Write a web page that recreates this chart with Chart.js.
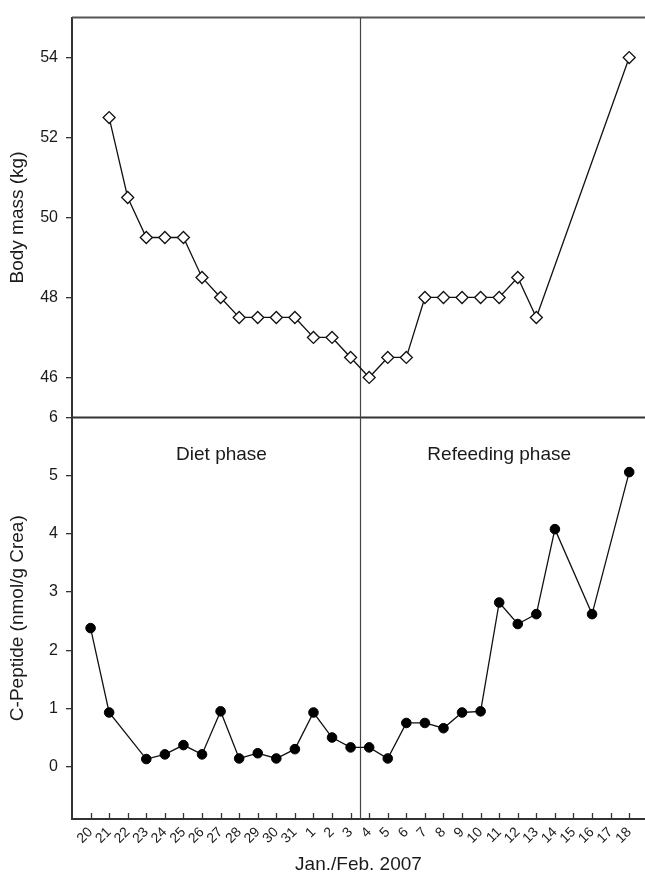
<!DOCTYPE html>
<html>
<head>
<meta charset="utf-8">
<script src="https://cdn.jsdelivr.net/npm/chart.js@4.4.1/dist/chart.umd.min.js"></script>
<style>
  html, body { margin: 0; padding: 0; background: #fff; }
  #wrap { width: 645px; height: 880px; }
</style>
</head>
<body>
<div id="wrap"><canvas id="myChart" width="645" height="880"></canvas></div>
<script>
// dias (eje x compartido)
const dates = ["20", "21", "22", "23", "24", "25", "26", "27", "28", "29", "30", "31",
               "1", "2", "3", "4", "5", "6", "7", "8", "9", "10", "11", "12", "13", "14", "15", "16", "17", "18"];

// masa corporal (kg), null = sin medida
const bodyMass = [null, 52.5, 50.5, 49.5, 49.5, 49.5, 48.5, 48.0, 47.5, 47.5, 47.5, 47.5,
                  47.0, 47.0, 46.5, 46.0, 46.5, 46.5, 48.0, 48.0, 48.0, 48.0, 48.0, 48.5, 47.5,
                  null, null, null, null, 54.0];

// C-peptido (nmol/g Crea)
const cPeptide = [2.38, 0.93, null, 0.13, 0.21, 0.37, 0.21, 0.95, 0.14, 0.23, 0.14, 0.30,
                  0.93, 0.50, 0.33, 0.33, 0.14, 0.75, 0.75, 0.66, 0.93, 0.95, 2.82, 2.45, 2.62,
                  4.08, null, 2.62, null, 5.06];

const massTicks = [46, 48, 50, 52, 54];
const peptideTicks = [0, 1, 2, 3, 4, 5, 6];
const phaseLabels = ["Diet phase", "Refeeding phase"];

Chart.defaults.font.family = "'Liberation Sans', Arial, sans-serif";
Chart.defaults.color = "#1a1a1a";

const axisColor = "#333";

// lineas del marco, separadores, ticks hacia dentro y textos de fase
const framePlugin = {
    id: "frame",
    beforeDatasetsDraw(chart) {
        const ctx = chart.ctx;
        const area = chart.chartArea;
        const x = chart.scales.x;
        const yPep = chart.scales.yPep;

        ctx.save();

        // borde superior
        ctx.strokeStyle = "#555";
        ctx.lineWidth = 2;
        ctx.beginPath();
        ctx.moveTo(area.left, area.top);
        ctx.lineTo(area.right, area.top);
        ctx.stroke();

        // separador horizontal entre paneles
        ctx.strokeStyle = axisColor;
        ctx.beginPath();
        ctx.moveTo(area.left, yPep.top);
        ctx.lineTo(area.right, yPep.top);
        ctx.stroke();

        // linea vertical entre fases
        const xs = Math.round(x.getPixelForValue(14.5)) + 0.5;
        ctx.lineWidth = 1.2;
        ctx.strokeStyle = "#444";
        ctx.beginPath();
        ctx.moveTo(xs, area.top);
        ctx.lineTo(xs, area.bottom);
        ctx.stroke();

        // ticks del eje x hacia dentro
        ctx.lineWidth = 1.3;
        ctx.strokeStyle = axisColor;
        dates.forEach((d, i) => {
            const px = Math.round(x.getPixelForValue(i)) + 0.5;
            ctx.beginPath();
            ctx.moveTo(px, area.bottom);
            ctx.lineTo(px, area.bottom - 6);
            ctx.stroke();
        });

        // textos de fase
        ctx.fillStyle = "#1a1a1a";
        ctx.font = "19px 'Liberation Sans', Arial, sans-serif";
        ctx.textAlign = "center";
        ctx.textBaseline = "middle";
        const ty = yPep.getPixelForValue(5.36);
        ctx.fillText(phaseLabels[0], x.getPixelForValue(7.05), ty);
        ctx.fillText(phaseLabels[1], x.getPixelForValue(22), ty);
        ctx.restore();
    }
};

function toPoints(values) {
    return values.map((v, i) => ({ x: i, y: v }));
}

function setTicks(list) {
    return function(scale) {
        scale.ticks = list.map(v => ({ value: v }));
    };
}

const yAxisCommon = {
    type: "linear",
    position: "left",
    stack: "panels",
    grid: { drawOnChartArea: false, tickLength: 6, color: axisColor, lineWidth: 1.3 },
    border: { color: axisColor, width: 2 },
    ticks: { font: { size: 16 }, padding: 8, color: "#1a1a1a" },
    afterFit(scale) { scale.width = 72; }
};

new Chart(document.getElementById("myChart"), {
    type: "line",
    data: {
        datasets: [
            {
                label: "Body mass",
                data: toPoints(bodyMass),
                yAxisID: "yMass",
                borderColor: "#111",
                borderWidth: 1.3,
                pointStyle: "rectRot",
                pointRadius: 6,
                pointBackgroundColor: "#fff",
                pointBorderColor: "#111",
                pointBorderWidth: 1.3,
                spanGaps: true,
                tension: 0
            },
            {
                label: "C-Peptide",
                data: toPoints(cPeptide),
                yAxisID: "yPep",
                borderColor: "#111",
                borderWidth: 1.3,
                pointStyle: "circle",
                pointRadius: 4.8,
                pointBackgroundColor: "#000",
                pointBorderColor: "#000",
                pointBorderWidth: 1,
                spanGaps: true,
                tension: 0
            }
        ]
    },
    options: {
        responsive: false,
        animation: false,
        layout: { autoPadding: false, padding: { top: 11, left: 0, right: 0, bottom: 0 } },
        plugins: {
            legend: { display: false },
            tooltip: { enabled: false }
        },
        scales: {
            x: {
                type: "linear",
                min: -1,
                max: 29.85,
                afterBuildTicks: setTicks(dates.map((d, i) => i)),
                afterFit(scale) {
                    scale.height = 61;
                    scale.paddingLeft = 0;
                    scale.paddingRight = 0;
                },
                grid: { drawOnChartArea: false, drawTicks: false },
                border: { color: axisColor, width: 2 },
                ticks: {
                    autoSkip: false,
                    minRotation: 45,
                    maxRotation: 45,
                    padding: 5,
                    font: { size: 14 },
                    color: "#1a1a1a",
                    callback: v => dates[v]
                },
                title: {
                    display: true,
                    text: "Jan./Feb. 2007",
                    font: { size: 19 },
                    color: "#1a1a1a",
                    padding: { top: 0, bottom: 4 }
                }
            },
            yPep: Object.assign({}, yAxisCommon, {
                min: -0.9,
                max: 6,
                stackWeight: 405.3,
                afterBuildTicks: setTicks(peptideTicks),
                title: {
                    display: true,
                    text: "C-Peptide (nmol/g Crea)",
                    font: { size: 19 },
                    color: "#1a1a1a",
                    padding: { top: 6, bottom: 0 }
                }
            }),
            yMass: Object.assign({}, yAxisCommon, {
                min: 45,
                max: 55,
                stackWeight: 403.5,
                afterBuildTicks: setTicks(massTicks),
                title: {
                    display: true,
                    text: "Body mass (kg)",
                    font: { size: 19 },
                    color: "#1a1a1a",
                    padding: { top: 6, bottom: 0 }
                }
            })
        }
    },
    plugins: [framePlugin]
});
</script>
</body>
</html>
